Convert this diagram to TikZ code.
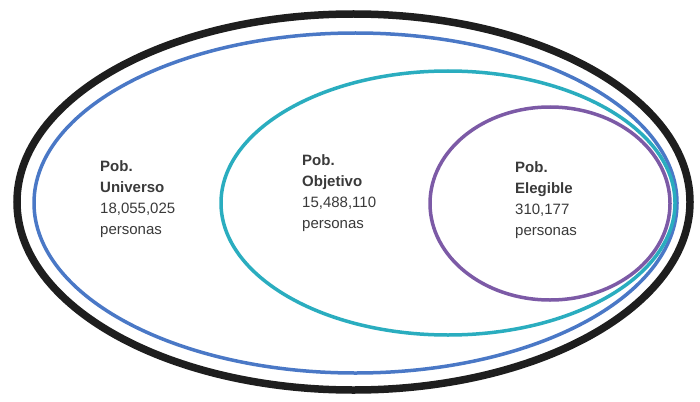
\documentclass[tikz,border=0pt]{standalone}
\usepackage{fontspec}
\setmainfont{Liberation Sans}
\definecolor{cblack}{HTML}{1E1E1E}
\definecolor{cblue}{HTML}{4A78C6}
\definecolor{cteal}{HTML}{2AADBF}
\definecolor{cpurple}{HTML}{7C5AA6}
\definecolor{ctext}{HTML}{3A3A3A}
\begin{document}
\begin{tikzpicture}[x=1pt,y=-1pt,
  ring/.style={line width=#1},
  lbl/.style={anchor=north west,inner sep=0pt,align=left,text=ctext,
    font=\fontsize{15}{21}\selectfont}]
\useasboundingbox[fill=white] (0,0) rectangle (700,401);
\draw[ring=7.5pt,cblack] (353.5,202) ellipse [x radius=336.5, y radius=188];
\draw[ring=3.5pt,cblue] (355.5,203) ellipse [x radius=321.5, y radius=170];
\draw[ring=3.5pt,cteal] (448,203) ellipse [x radius=227, y radius=132];
\draw[ring=3.5pt,cpurple] (550,203.5) ellipse [x radius=120, y radius=96.5];
\node[lbl] (univ) at (100,160) {\textbf{Pob.}\\\textbf{Universo}\\18,055,025\\personas};
\node[lbl] (obj) at (302,154) {\textbf{Pob.}\\\textbf{Objetivo}\\15,488,110\\personas};
\node[lbl] (eleg) at (515,161) {\textbf{Pob.}\\\textbf{Elegible}\\310,177\\personas};
\end{tikzpicture}
\end{document}
